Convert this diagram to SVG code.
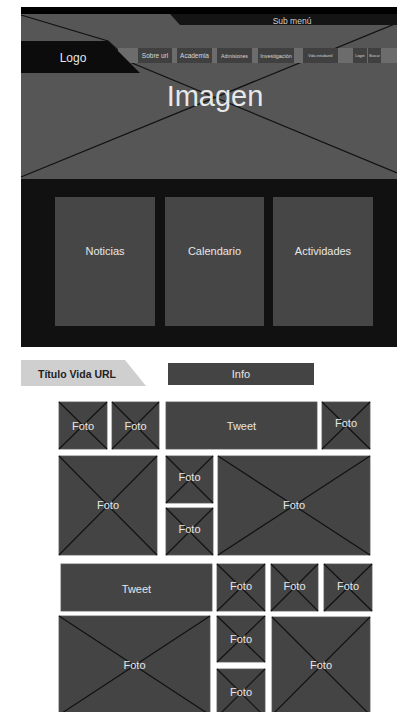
<svg xmlns="http://www.w3.org/2000/svg" width="397" height="712" viewBox="0 0 397 712">
<style>
text{font-family:"Liberation Sans",Arial,sans-serif;text-anchor:middle}
.box{fill:#444;stroke:#555;stroke-width:0.8}
.x{stroke:#111;stroke-width:1.2;fill:none}
.lbl{fill:#e6e6e6;font-size:11px}
.card{fill:#464646}
.nav{fill:#404040}
.nt{fill:#d8d8d8}
</style>
<rect x="0" y="0" width="397" height="712" fill="#fff"/>
<g id="header">
<rect x="21" y="7" width="376" height="172" fill="#565656"/>
<rect x="21" y="7" width="376" height="7" fill="#000"/>
</g>
<g id="imagen-x">
<polyline class="x" points="21,15 108,41 132,63 397,173" stroke-width="1.6"/>
<line class="x" x1="21" y1="177" x2="397" y2="23" stroke-width="1.6"/>
</g>
<g id="submenu">
<polygon points="170,14 397,14 397,25 180,25" fill="#141414"/>
<text x="292" y="23.5" font-size="8.5" fill="#d0d0d0">Sub menú</text>
</g>
<g id="nav">
<rect x="118" y="48" width="279" height="15" fill="#6c6c6c"/>
<rect class="nav" x="138" y="48" width="34" height="15"/>
<rect class="nav" x="177" y="48" width="35" height="15"/>
<rect class="nav" x="217" y="48" width="35" height="15"/>
<rect class="nav" x="258" y="48" width="36" height="15"/>
<rect class="nav" x="303" y="48" width="35" height="15"/>
<rect class="nav" x="353" y="48" width="14" height="15"/>
<rect class="nav" x="368" y="48" width="13" height="15"/>
<text class="nt" x="155" y="58" font-size="6.5">Sobre url</text>
<text class="nt" x="194.5" y="58" font-size="6.5">Academia</text>
<text class="nt" x="234.5" y="57.5" font-size="5.2">Admisiones</text>
<text class="nt" x="276" y="57.5" font-size="5.4">Investigación</text>
<text class="nt" x="320.5" y="57" font-size="3.6">Vida estudiantil</text>
<text class="nt" x="360" y="57" font-size="3.8">Login</text>
<text class="nt" x="374.5" y="57" font-size="3.4">Buscar</text>
</g>
<g id="logo">
<polygon points="21,41 108,41 140,73 21,73" fill="#0c0c0c"/>
<text x="73" y="62" font-size="12" fill="#e6e6e6">Logo</text>
</g>
<g id="imagen-label">
<text x="215" y="106" font-size="29" fill="#e8e8e8">Imagen</text>
</g>
<g id="bottom-band">
<rect x="21" y="179" width="376" height="168" fill="#111"/>
</g>
<g id="noticias"><rect class="card" x="55" y="197" width="100" height="129"/><text class="lbl" x="105" y="255" font-size="11.5">Noticias</text></g>
<g id="calendario"><rect class="card" x="165" y="197" width="99" height="129"/><text class="lbl" x="214.5" y="255" font-size="11.5">Calendario</text></g>
<g id="actividades"><rect class="card" x="273" y="197" width="100" height="129"/><text class="lbl" x="323" y="255" font-size="11.5">Actividades</text></g>
<g id="titulo">
<polygon points="21,360 125,360 146,386 21,386" fill="#cfcfcf"/>
<text x="38" y="378" font-size="10.5" font-weight="bold" fill="#222" style="text-anchor:start">Título Vida URL</text>
</g>
<g id="info"><rect x="168" y="363" width="146" height="22" fill="#444"/><text class="lbl" x="241" y="378">Info</text></g>
<g id="f1"><rect class="box" x="59" y="402" width="48" height="47"/><path class="x" d="M59,402L107,449M107,402L59,449"/><text class="lbl" x="83" y="430">Foto</text></g>
<g id="f2"><rect class="box" x="112" y="402" width="47" height="47"/><path class="x" d="M112,402L159,449M159,402L112,449"/><text class="lbl" x="135.5" y="430">Foto</text></g>
<g id="t1"><rect class="box" x="166" y="402" width="151" height="47"/><text class="lbl" x="241.5" y="430">Tweet</text></g>
<g id="f3"><rect class="box" x="322" y="402" width="48" height="47"/><path class="x" d="M322,402L370,449M370,402L322,449"/><text class="lbl" x="346" y="427">Foto</text></g>
<g id="f4"><rect class="box" x="59" y="456" width="98" height="99"/><path class="x" d="M59,456L157,555M157,456L59,555"/><text class="lbl" x="108" y="509">Foto</text></g>
<g id="f5"><rect class="box" x="166" y="456" width="47" height="47"/><path class="x" d="M166,456L213,503M213,456L166,503"/><text class="lbl" x="189.5" y="481">Foto</text></g>
<g id="f6"><rect class="box" x="166" y="508" width="47" height="47"/><path class="x" d="M166,508L213,555M213,508L166,555"/><text class="lbl" x="189.5" y="533">Foto</text></g>
<g id="f7"><rect class="box" x="218" y="456" width="152" height="99"/><path class="x" d="M218,456L370,555M370,456L218,555"/><text class="lbl" x="294" y="509">Foto</text></g>
<g id="t2"><rect class="box" x="61" y="564" width="151" height="47"/><text class="lbl" x="136.5" y="593">Tweet</text></g>
<g id="f8"><rect class="box" x="217" y="564" width="48" height="47"/><path class="x" d="M217,564L265,611M265,564L217,611"/><text class="lbl" x="241" y="590">Foto</text></g>
<g id="f9"><rect class="box" x="271" y="564" width="47" height="47"/><path class="x" d="M271,564L318,611M318,564L271,611"/><text class="lbl" x="294.5" y="590">Foto</text></g>
<g id="f10"><rect class="box" x="324" y="564" width="48" height="47"/><path class="x" d="M324,564L372,611M372,564L324,611"/><text class="lbl" x="348" y="590">Foto</text></g>
<g id="f11"><rect class="box" x="59" y="616" width="151" height="99"/><path class="x" d="M59,616L210,715M210,616L59,715"/><text class="lbl" x="134.5" y="669">Foto</text></g>
<g id="f12"><rect class="box" x="217" y="616" width="48" height="46"/><path class="x" d="M217,616L265,662M265,616L217,662"/><text class="lbl" x="241" y="643">Foto</text></g>
<g id="f13"><rect class="box" x="217" y="669" width="48" height="48"/><path class="x" d="M217,669L265,717M265,669L217,717"/><text class="lbl" x="241" y="696">Foto</text></g>
<g id="f14"><rect class="box" x="272" y="617" width="98" height="98"/><path class="x" d="M272,617L370,715M370,617L272,715"/><text class="lbl" x="321" y="669">Foto</text></g>
</svg>
